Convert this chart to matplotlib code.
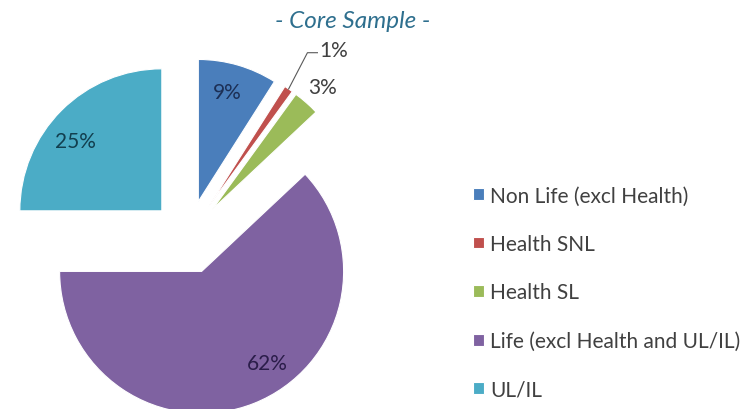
import numpy as np
import matplotlib.pyplot as plt

plt.rcParams['font.family'] = ['Lato', 'DejaVu Sans']

# data
categories = ['Non Life (excl Health)', 'Health SNL', 'Health SL',
              'Life (excl Health and UL/IL)', 'UL/IL']
shares = [9, 1, 3, 62, 25]
pct_labels = ['9%', '1%', '3%', '62%', '25%']

colors = ['#4a7ebb', '#c0504d', '#9bbb59', '#7f62a1', '#4bacc6']
txt_colors = ['#1c2f55', '#404040', '#404040', '#2b1d4a', '#123f4f']
label_dist = [0.80, 1.41, 1.16, 0.79, 0.78]   # fraction of radius
label_shift = [1.5, -4.3, -0.7, 14, 6]         # degrees off slice middle

W, H = 747, 410
fig = plt.figure(figsize=(W / 100, H / 100), dpi=100)
ax = fig.add_axes([0, 0, 1, 1])

R = 142
wedges, _ = ax.pie(shares, colors=colors, startangle=90, counterclock=False,
                   radius=R, center=(188, 172), explode=[37] * len(shares),
                   wedgeprops=dict(edgecolor='white', linewidth=0.8))
ax.set_aspect('auto')
ax.set_xlim(0, W)
ax.set_ylim(0, H)
ax.axis('off')

for i, w in enumerate(wedges):
    mid = np.deg2rad((w.theta1 + w.theta2) / 2)
    ang = mid + np.deg2rad(label_shift[i])
    cx, cy = w.center
    lx = cx + label_dist[i] * w.r * np.cos(ang)
    ly = cy + label_dist[i] * w.r * np.sin(ang)
    ax.text(lx, ly, pct_labels[i], ha='center', va='center', fontsize=15,
            color=txt_colors[i])
    if i == 1:
        # leader line for the small slice
        tx = cx + w.r * np.cos(mid)
        ty = cy + w.r * np.sin(mid)
        ax.plot([tx, lx - 26, lx - 16], [ty, ly - 3, ly - 3],
                color='#595959', lw=0.8)

ax.text(353, H - 22, '- Core Sample -', ha='center', va='center',
        fontsize=17.5, style='italic', color='#2e6f8e')

leg = fig.legend(wedges, categories, loc='upper left',
                 bbox_to_anchor=(463 / W, 1 - 176 / H), frameon=False,
                 fontsize=15, handlelength=0.5, handleheight=0.5,
                 handletextpad=0.3, labelspacing=1.37, borderpad=0)
for t in leg.get_texts():
    t.set_color('#404040')

plt.savefig('out.png', dpi=100, facecolor='white')
